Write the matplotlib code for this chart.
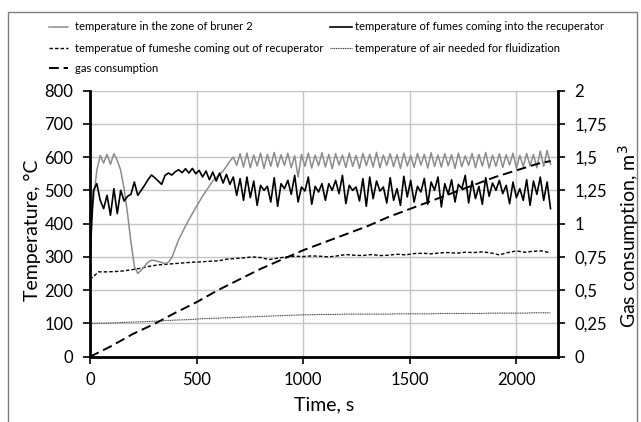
import matplotlib.pyplot as plt
import numpy as np
from matplotlib.lines import Line2D
from matplotlib.patches import Rectangle
from matplotlib.ticker import FixedLocator

plt.rcParams['font.family'] = ['Lato', 'DejaVu Sans']

# --- data ---
# temperature in the zone of burner 2, sampled every 16 s
t_zone_step = 16
temp_zone = [
    400, 470, 560, 605, 582, 608, 578, 610, 590, 560, 505, 430, 345, 272, 250, 260,
    272, 284, 290, 289, 286, 283, 280, 284, 298, 325, 352, 372, 393, 412, 430, 448,
    465, 483, 498, 513, 528, 538, 548, 558, 572, 588, 600,
    575, 610, 570, 612, 568, 606, 573, 612, 566, 608, 572, 614, 570, 607, 575, 611,
    568, 604, 540, 608, 572, 612, 567, 606, 574, 613, 570, 608, 565, 610, 576, 606,
    569, 612, 572, 605, 566, 611, 574, 608, 570, 614, 568, 606, 575, 610, 571, 607,
    566, 612, 573, 605, 569, 611, 576, 608, 567, 613, 572, 606, 570, 610, 574, 607,
    566, 612, 571, 604, 575, 611, 568, 608, 573, 614, 567, 606, 572, 610, 569, 607,
    576, 612, 566, 605, 571, 611, 574, 608, 568, 618, 572, 620, 578,
]

# temperature of fumes coming into the recuperator, every 16 s
temp_fumes_in = [
    300, 500, 520, 470, 445, 485, 425, 505, 430, 500, 468, 482, 488, 525, 485, 500,
    515, 532, 546, 538, 528, 518, 545, 552, 546, 556, 562, 553, 565, 552, 566, 550,
    560, 540, 558, 532, 555, 528, 552, 522, 548, 518, 540,
    485, 535, 470, 540, 478, 528, 455, 515, 500, 512,
    465, 538, 452, 520, 505, 530, 488, 545, 465, 510,
    498, 540, 458, 512, 495, 520, 470, 520, 500, 530,
    490, 545, 460, 515, 500, 510, 468, 535, 452, 540,
    475, 528, 498, 510, 462, 538, 470, 505, 455, 542,
    480, 530, 465, 512, 495, 536, 458, 525, 500, 540,
    450, 520, 488, 532, 465, 518, 505, 545, 462, 528,
    475, 512, 458, 538, 482, 522, 500, 530, 490, 515,
    460, 525, 478, 505, 470, 532, 455, 528, 488, 540,
    470, 525, 445,
]

# temperature of fumes coming out of the recuperator, every 40 s
t_slow_step = 40
temp_fumes_out = [
    232, 255, 255, 256, 258, 262, 266, 272, 276, 278, 280, 282, 284, 285, 287, 288,
    293, 295, 297, 300, 298, 292, 296, 300, 302, 301, 303, 302, 300, 303, 307, 305,
    304, 307, 304, 305, 308, 306, 310, 311, 309, 312, 313, 311, 314, 313, 315, 312,
    306, 313, 318, 314, 317, 318, 312,
]

# temperature of air needed for fluidization, every 40 s
temp_air = [
    100, 101, 101, 102, 103, 104, 105, 106, 107, 109, 110, 111, 112, 114, 115, 116,
    117, 118, 119, 120, 121, 122, 123, 124, 125, 126, 126, 127, 127, 127, 128, 128,
    128, 128, 128, 128, 129, 129, 129, 129, 129, 130, 130, 130, 130, 130, 130, 131,
    131, 131, 131, 131, 132, 132, 132,
]

# gas consumption, m3
gas_time = [0, 100, 200, 300, 400, 500, 600, 700, 800, 900, 1000, 1100, 1200,
            1300, 1400, 1500, 1600, 1700, 1800, 1900, 2000, 2100, 2160]
gas_volume = [0, 0.08, 0.17, 0.245, 0.33, 0.41, 0.5, 0.58, 0.66, 0.73, 0.8, 0.86, 0.92,
              0.98, 1.05, 1.11, 1.17, 1.23, 1.29, 1.35, 1.4, 1.45, 1.47]

temp_ticks = [0, 100, 200, 300, 400, 500, 600, 700, 800]
gas_ticks = [0, 0.25, 0.5, 0.75, 1, 1.25, 1.5, 1.75, 2]
gas_tick_labels = ['0', '0,25', '0,5', '0,75', '1', '1,25', '1,5', '1,75', '2']
time_ticks = [0, 500, 1000, 1500, 2000]

labels = [
    'temperature in the zone of bruner 2',
    'temperature of fumes coming into the recuperator',
    'temperatue of fumeshe coming out of recuperator',
    'temperature of air needed for fluidization',
    'gas consumption',
]

t_fast = np.arange(len(temp_zone)) * t_zone_step
t_slow = np.arange(len(temp_fumes_out)) * t_slow_step

# --- figure ---
fig = plt.figure(figsize=(6.41, 4.22), dpi=100)
ax = fig.add_axes([0.1404, 0.1547, 0.7301, 0.6308])
ax2 = ax.twinx()

st_zone = dict(color='#8c8c8c', lw=1.1, ls='-')
st_in = dict(color='black', lw=1.2, ls='-')
st_out = dict(color='black', lw=1.0, ls=(0, (2.5, 1.5)))
st_air = dict(color='#404040', lw=0.8, ls=(0, (1, 0.6)))
st_gas = dict(color='black', lw=1.4, ls=(0, (5, 2.5)))

ax.plot(t_slow, temp_air, **st_air)
ax.plot(t_slow, temp_fumes_out, **st_out)
ax.plot(t_fast, temp_zone, **st_zone)
ax.plot(t_fast, temp_fumes_in, **st_in)
ax2.plot(gas_time, gas_volume, **st_gas)

ax.set_xlim(0, 2195)
ax.set_ylim(0, 800)
ax2.set_ylim(0, 2)
ax.xaxis.set_major_locator(FixedLocator(time_ticks))
ax.yaxis.set_major_locator(FixedLocator(temp_ticks))
ax2.yaxis.set_major_locator(FixedLocator(gas_ticks))
ax2.set_yticklabels(gas_tick_labels)

ax.grid(True, color='#c4c4c4', lw=1.0)
ax.set_axisbelow(True)

for a in (ax, ax2):
    a.spines['top'].set_visible(False)
    a.spines['left'].set_linewidth(2)
    a.spines['right'].set_linewidth(2)
    a.spines['bottom'].set_linewidth(2)
ax.spines['right'].set_visible(False)
ax2.spines['left'].set_visible(False)
ax2.spines['bottom'].set_visible(False)

ax.tick_params(axis='y', direction='out', length=5, width=1.2, labelsize=12, pad=7)
ax.tick_params(axis='x', direction='out', length=5, width=1.2, labelsize=12, pad=6)
ax2.tick_params(axis='y', direction='out', length=5, width=1.2, labelsize=12, pad=7)

ax.set_xlabel('Time, s', fontsize=14, va='center')
ax.set_ylabel('Temperature, °C', fontsize=14, va='center')
ax2.set_ylabel('Gas consumption, m$^3$', fontsize=14, va='center')
ax.xaxis.set_label_coords(0.5, -0.182)
ax.yaxis.set_label_coords(-0.122, 0.473)
ax2.yaxis.set_label_coords(1.151, 0.454)

# legend drawn by hand in figure pixels
W, H = 641.0, 422.0
entries = [
    (49, 68, 75, 27, st_zone, labels[0]),
    (330, 352, 355, 27, st_in, labels[1]),
    (49, 68, 75, 48, st_out, labels[2]),
    (330, 352, 355, 48, st_air, labels[3]),
    (49, 68, 75, 68, st_gas, labels[4]),
]
for x0, x1, xt, y, st, lab in entries:
    fig.add_artist(Line2D([x0 / W, x1 / W], [1 - y / H, 1 - y / H],
                          transform=fig.transFigure, **st))
    fig.text(xt / W, 1 - y / H, lab, fontsize=8.1, va='center', ha='left')

# chart frame
fig.add_artist(Rectangle((8 / W, -0.1), (637 - 8) / W, 1.1 - 12 / H,
                         transform=fig.transFigure, fill=False,
                         edgecolor='#7f7f7f', lw=1.0))

fig.savefig('out.png', dpi=100)
